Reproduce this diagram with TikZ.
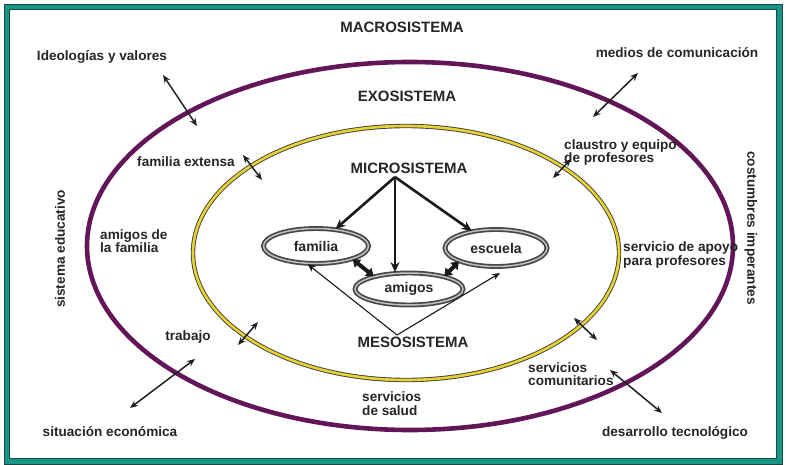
\documentclass[tikz,border=0pt]{standalone}
\usepackage{fontspec}
\setmainfont{Liberation Sans}
\usetikzlibrary{arrows.meta,shapes.geometric}
\definecolor{purp}{RGB}{98,22,88}
\definecolor{yel}{RGB}{232,210,50}
\definecolor{teal1}{RGB}{22,150,132}
\definecolor{frameline}{RGB}{30,70,65}
\definecolor{txt}{RGB}{38,38,38}
\begin{document}
\begin{tikzpicture}[x=1pt,y=-1pt,
  lbl/.style={font=\bfseries\fontsize{13.6}{13.5}\selectfont, text=txt, inner sep=0pt, align=left},
  head/.style={font=\bfseries\fontsize{15}{15}\selectfont, text=txt, inner sep=0pt},
  dbl/.style={{Stealth[length=8pt,width=6.5pt]}-{Stealth[length=8pt,width=6.5pt]}, line width=1.5pt, black!88},
  thickarrow/.style={-{Stealth[length=10pt,width=9pt]}, line width=2.6pt, black!90},
  thinarrow/.style={-{Stealth[length=8pt,width=6.5pt]}, line width=1.1pt, black!90},
  fat/.style={{Triangle[length=7pt,width=10pt]}-{Triangle[length=7pt,width=10pt]}, line width=4pt, black!90},
  micro/.style={ellipse, draw=black!72, double=gray!50, double distance=1.5pt, line width=1.7pt,
    inner sep=0pt, font=\bfseries\fontsize{14}{14}\selectfont, text=txt}]
\useasboundingbox (0,0) rectangle (786,465);
\fill[white] (0,0) rectangle (786,465);
% frame
\draw[teal1, line width=5pt] (6.5,6.5) rectangle (779.5,461.5);
\draw[frameline, line width=0.8pt] (4,4) rectangle (782,464);
\draw[frameline, line width=0.8pt] (9.3,9.3) rectangle (776.7,458.7);
% system ellipses
\draw[purp, line width=4.6pt] (410,246) ellipse [x radius=323pt, y radius=184pt];
\draw[draw=black!75, double=yel, double distance=2.6pt, line width=0.9pt] (406,253) ellipse [x radius=213pt, y radius=127pt];
% headings
\node[head] (macro) at (402,27) {MACROSISTEMA};
\node[head] (exo) at (407,96) {EXOSISTEMA};
\node[head] (microt) at (409,168) {MICROSISTEMA};
\node[head] (meso) at (413,342) {MESOSISTEMA};
% micro nodes
\node[micro, minimum width=105pt, minimum height=35pt] (familia) at (316,246) {familia};
\node[micro, minimum width=102pt, minimum height=37pt] (escuela) at (496,248) {escuela};
\node[micro, minimum width=108pt, minimum height=32pt] (amigos) at (409,289) {amigos};
% labels
\node[lbl] (ideo) at (102,57) {Ideologías y valores};
\node[lbl] (famext) at (186,162) {familia extensa};
\node[lbl] (medios) at (677,53) {medios de comunicación};
\node[lbl, anchor=west] (claustro) at (564,152.5) {claustro y equipo\\de profesores};
\node[lbl, rotate=-90] (costumbres) at (751,228) {costumbres imperantes};
\node[lbl, rotate=90] (sisedu) at (60,249) {sistema educativo};
\node[lbl, anchor=west] (amigosfam) at (100,241) {amigos de\\la familia};
\node[lbl] (trabajo) at (188,337) {trabajo};
\node[lbl] (sitecon) at (110,432) {situación económica};
\node[lbl, anchor=west] (salud) at (362,403.5) {servicios\\de salud};
\node[lbl, anchor=west] (apoyo) at (623,255) {servicio de apoyo\\para profesores};
\node[lbl, anchor=west] (comun) at (528,374) {servicios\\comunitarios};
\node[lbl] (desarrollo) at (675,433) {desarrollo tecnológico};
% coordinates for free arrow ends
\coordinate (a1s) at (163,75);  \coordinate (a1e) at (197,126);
\coordinate (a2s) at (243,155); \coordinate (a2e) at (262,180);
\coordinate (a3s) at (638,73);  \coordinate (a3e) at (593,117);
\coordinate (a4s) at (571,159); \coordinate (a4e) at (553,178);
\coordinate (a5s) at (258,322); \coordinate (a5e) at (238,345);
\coordinate (a6s) at (195,359); \coordinate (a6e) at (130,408);
\coordinate (a7s) at (574,318); \coordinate (a7e) at (597,340);
\coordinate (a8s) at (610,370); \coordinate (a8e) at (662,413);
\coordinate (microapex) at (395,177);
\coordinate (mesoapex) at (397,335);
\coordinate (mesoR) at (500,273);
% double arrows across system boundaries
\draw[dbl] (a1s) -- (a1e);
\draw[dbl] (a2s) -- (a2e);
\draw[dbl] (a3s) -- (a3e);
\draw[dbl] (a4s) -- (a4e);
\draw[dbl] (a5s) -- (a5e);
\draw[dbl] (a6s) -- (a6e);
\draw[dbl] (a7s) -- (a7e);
\draw[dbl] (a8s) -- (a8e);
% microsystem arrows
\draw[thickarrow] (microapex) -- (familia);
\draw[thickarrow] (microapex) -- (microapex |- amigos.north);
\draw[thickarrow] (microapex) -- (escuela);
% mesosystem links
\draw[fat] (familia.-20) -- (amigos.160);
\draw[fat] (amigos.20) -- (escuela.-160);
\draw[thinarrow] (mesoapex) -- (familia.-115);
\draw[thinarrow] (mesoapex) -- (mesoR);
\end{tikzpicture}
\end{document}
